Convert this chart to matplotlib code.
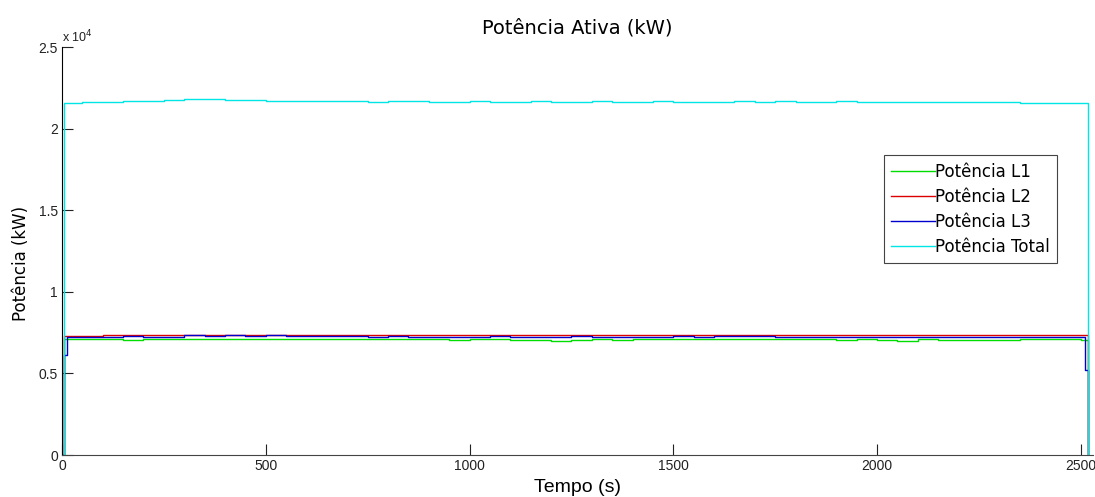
import matplotlib as mpl
mpl.use('Agg')
import matplotlib.pyplot as plt
from matplotlib.ticker import FuncFormatter

# tempo (s) e potencias (kW)
tempo = [0, 6, 12, 50, 100, 150, 200, 250, 300, 350, 400, 450, 500, 550, 600, 650, 700,
         750, 800, 850, 900, 950, 1000, 1050, 1100, 1150, 1200, 1250, 1300, 1350, 1400,
         1450, 1500, 1550, 1600, 1650, 1700, 1750, 1800, 1850, 1900, 1950, 2000, 2050,
         2100, 2150, 2200, 2250, 2300, 2350, 2400, 2450, 2500, 2510, 2518]

pot_l1 = [0, 7100, 7100, 7130, 7130, 7020, 7130, 7130, 7130, 7130, 7130, 7130, 7130, 7130,
          7130, 7130, 7130, 7130, 7130, 7130, 7130, 7020, 7130, 7130, 7030, 7020, 7000, 7020,
          7130, 7030, 7130, 7130, 7130, 7130, 7130, 7130, 7130, 7130, 7130, 7130, 7040, 7130,
          7030, 7010, 7130, 7030, 7020, 7030, 7020, 7130, 7130, 7130, 7030, 7030, 0]

pot_l2 = [0, 7300, 7300, 7320, 7340, 7330, 7340, 7350, 7360, 7370, 7380, 7370, 7360, 7370,
          7370, 7360, 7370, 7350, 7350, 7340, 7350, 7340, 7340, 7330, 7340, 7350, 7350, 7340,
          7350, 7340, 7340, 7350, 7350, 7340, 7350, 7340, 7350, 7360, 7380, 7360, 7370, 7360,
          7370, 7360, 7350, 7350, 7340, 7340, 7340, 7340, 7340, 7340, 7340, 7340, 0]

pot_l3 = [0, 6100, 7250, 7250, 7230, 7280, 7230, 7240, 7330, 7310, 7330, 7320, 7330, 7300,
          7310, 7320, 7280, 7230, 7300, 7230, 7250, 7260, 7230, 7270, 7260, 7230, 7240, 7270,
          7230, 7260, 7230, 7230, 7280, 7230, 7300, 7280, 7300, 7230, 7230, 7230, 7230, 7250,
          7230, 7230, 7260, 7230, 7230, 7230, 7230, 7230, 7230, 7230, 7230, 5200, 0]

pot_total = [0, 21600, 21600, 21650, 21650, 21700, 21700, 21750, 21800, 21800, 21780, 21750,
             21700, 21700, 21680, 21700, 21700, 21660, 21700, 21700, 21660, 21650, 21700,
             21660, 21650, 21700, 21660, 21650, 21700, 21660, 21650, 21700, 21660, 21650,
             21660, 21700, 21660, 21700, 21660, 21650, 21700, 21660, 21650, 21650, 21620,
             21650, 21660, 21620, 21610, 21600, 21600, 21600, 21600, 21600, 0]

fig = plt.figure(figsize=(10.95, 4.97), dpi=100)
ax = fig.add_axes([0.0566, 0.0845, 0.9416, 0.8209])

ax.plot(tempo, pot_l1, color='#00dd00', lw=1, drawstyle='steps-post', label='Potência L1')
ax.plot(tempo, pot_l2, color='#dd0000', lw=1, drawstyle='steps-post', label='Potência L2')
ax.plot(tempo, pot_l3, color='#0000cc', lw=1, drawstyle='steps-post', label='Potência L3')
ax.plot(tempo, pot_total, color='#00e5e5', lw=1, drawstyle='steps-post', label='Potência Total')

ax.set_xlim(0, 2530)
ax.set_ylim(0, 25000)
ax.set_xticks([0, 500, 1000, 1500, 2000, 2500])
ax.set_yticks([0, 5000, 10000, 15000, 20000, 25000])
ax.yaxis.set_major_formatter(FuncFormatter(lambda v, p: '%g' % (v / 1e4)))

ax.spines['top'].set_visible(False)
ax.spines['right'].set_visible(False)
ax.spines['left'].set_color('black')
ax.spines['bottom'].set_color('#444444')
ax.tick_params(axis='both', direction='in', length=8, width=0.8, labelsize=10,
               colors='#222222', pad=3)
for tick in ax.get_xticklabels() + ax.get_yticklabels():
    tick.set_family(['Liberation Sans', 'DejaVu Sans'])

ax.text(0, 1.005, r'x 10$^4$', transform=ax.transAxes, fontsize=9, ha='left', va='bottom',
        color='#222222', family=['Liberation Sans', 'DejaVu Sans'])

ax.set_title('Potência Ativa (kW)', fontsize=14, pad=10)
ax.set_xlabel('Tempo (s)', fontsize=14, labelpad=4,
              family=['Liberation Sans', 'DejaVu Sans'])
ax.set_ylabel('Potência (kW)', fontsize=12)
ax.yaxis.set_label_coords(-0.031, 0.47)

leg = ax.legend(loc='upper right', bbox_to_anchor=(0.965, 0.735), fontsize=12,
                fancybox=False, framealpha=1, edgecolor='#444444', handlelength=2.6,
                handletextpad=0.0, borderpad=0.45, labelspacing=0.42, borderaxespad=0)
leg.get_frame().set_linewidth(0.8)

plt.savefig('out.png', dpi=100)
